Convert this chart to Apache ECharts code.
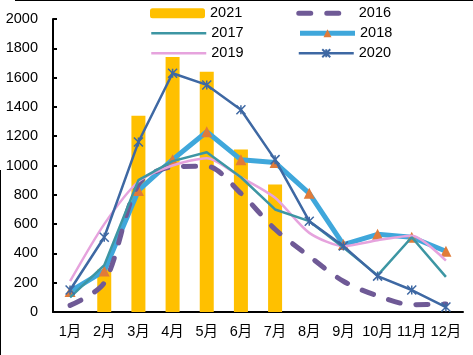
<!DOCTYPE html>
<html><head><meta charset="utf-8">
<script src="https://cdn.jsdelivr.net/npm/echarts@6/dist/echarts.min.js"></script>
<style>html,body{margin:0;padding:0;background:#fff}#c{width:473px;height:355px}</style>
</head><body><div id="c"></div>
<script>
var months = ['1月','2月','3月','4月','5月','6月','7月','8月','9月','10月','11月','12月'];
var yTicks = [0, 2000, 200];
var s2021 = [null, 290, 1340, 1740, 1640, 1110, 870, null, null, null, null, null];
var s2016 = [45, 200, 870, 990, 995, 810, 565, 380, 210, 110, 50, 55];
var s2017 = [100, 320, 900, 1030, 1090, 920, 700, 620, 440, 250, 510, 240];
var s2018 = [140, 280, 830, 1040, 1230, 1040, 1020, 810, 460, 530, 510, 415];
var s2019 = [210, 600, 890, 1000, 1050, 920, 780, 540, 450, 490, 520, 350];
var s2020 = [150, 510, 1160, 1630, 1550, 1380, 1040, 620, 450, 245, 150, 34];

var FONT = 'Liberation Sans, Noto Sans CJK SC, sans-serif';
var C16 = '#6F5A96', C17 = '#3D96A3', C18 = '#3FA7DB', C19 = '#E6A3DD', C20 = '#3E68A3';
var chart = echarts.init(document.getElementById('c'), null, {renderer:'canvas'});
var txt = {fontSize:14.5, color:'#000', fontFamily:FONT};
function lg(top, names){
  return {top:top, left:150, itemWidth:55, itemHeight:10, itemGap:54, textStyle:txt,
          data:names, selectedMode:false, padding:0};
}
var hide = {opacity:0};
chart.setOption({
  animation:false,
  graphic:[
    {type:'line', shape:{x1:15,y1:0.5,x2:473,y2:0.5}, style:{stroke:'#000',lineWidth:1}},
    {type:'line', shape:{x1:0.5,y1:170,x2:0.5,y2:355}, style:{stroke:'#000',lineWidth:1}}
  ],
  legend:[
    lg(6,[{name:'2021'}, {name:'2016', itemStyle:hide, lineStyle:{color:C16, width:5, type:[12,16], cap:'round'}}]),
    lg(26,[{name:'2017', itemStyle:hide, lineStyle:{color:C17, width:2.5}}, {name:'2018', lineStyle:{color:C18, width:5}}]),
    lg(46,[{name:'2019', itemStyle:hide, lineStyle:{color:C19, width:2.5}}, {name:'2020', lineStyle:{color:C20, width:2.5}}])
  ],
  grid:{left:53, right:10, top:19, bottom:43},
  xAxis:{type:'category', data:months, boundaryGap:true,
    axisLine:{lineStyle:{color:'#000', width:2}},
    axisTick:{inside:true, length:5, lineStyle:{color:'#000', width:2}},
    axisLabel:Object.assign({margin:13, interval:0}, txt)},
  yAxis:{type:'value', min:yTicks[0], max:yTicks[1], interval:yTicks[2],
    splitLine:{show:false},
    axisLine:{show:true, lineStyle:{color:'#000', width:2}},
    axisTick:{show:true, inside:true, length:4, lineStyle:{color:'#000', width:2}},
    axisLabel:Object.assign({margin:15, formatter:function(v){return String(v);}}, txt)},
  series:[
    {name:'2021', type:'bar', data:s2021, barWidth:14, itemStyle:{color:'#FFC000'}, z:1},
    {name:'2016', type:'line', data:s2016, smooth:0.3, symbol:'none',
      lineStyle:{color:C16, width:5, type:[12,16], cap:'round'}, itemStyle:{color:C16}, z:3},
    {name:'2017', type:'line', data:s2017, symbol:'none',
      lineStyle:{color:C17, width:2.5}, itemStyle:{color:C17}, z:4},
    {name:'2018', type:'line', data:s2018, symbol:'triangle', symbolSize:11,
      lineStyle:{color:C18, width:5}, itemStyle:{color:'#E07B39'}, z:2},
    {name:'2019', type:'line', data:s2019, smooth:0.25, symbol:'none',
      lineStyle:{color:C19, width:2.5}, itemStyle:{color:C19}, z:3},
    {name:'2020', type:'line', data:s2020, symbol:'path://M0,0L10,10M10,0L0,10M5,0L5,10', symbolSize:9,
      lineStyle:{color:C20, width:2.5},
      itemStyle:{color:'none', borderColor:C20, borderWidth:1.5}, z:5}
  ]
});
</script></body></html>
